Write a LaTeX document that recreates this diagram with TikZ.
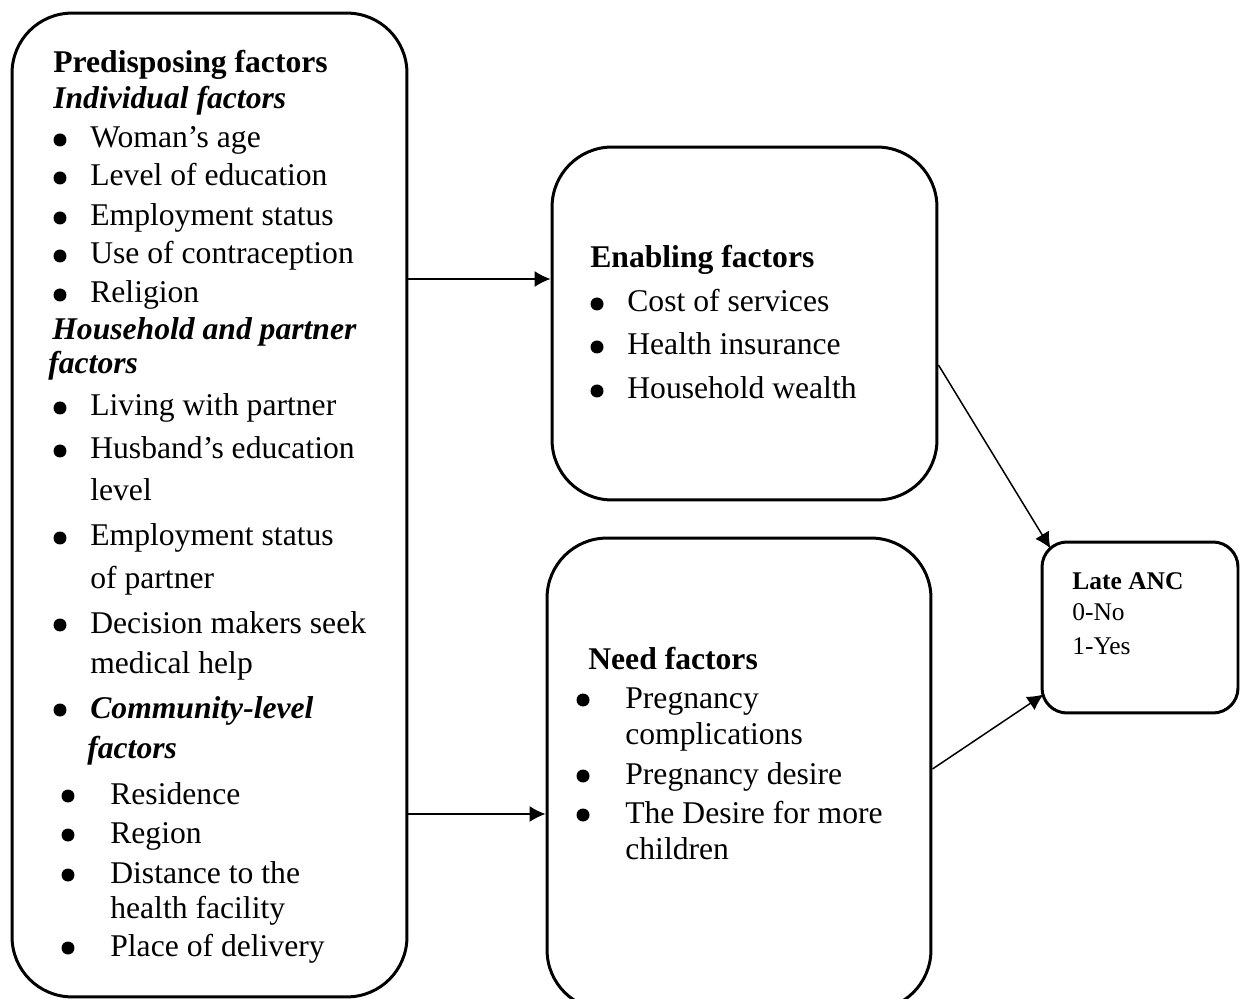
\documentclass[tikz,border=0pt]{standalone}
\usepackage{fontspec}
\setmainfont{Liberation Serif}
\usetikzlibrary{calc,arrows.meta,positioning}

\tikzset{
  box/.style={draw,line width=1.7pt,rounded corners=1.2cm,inner sep=0pt},
  txt/.style={anchor=base west,inner sep=0pt,font=\fontsize{18}{20}\selectfont},
  dot/.style={circle,fill,inner sep=0pt,minimum size=0.26cm},
  small/.style={anchor=base west,inner sep=0pt,font=\fontsize{14.5}{16}\selectfont},
  arr/.style={line width=0.85pt,-{Latex[length=0.32cm,width=0.32cm]}}
}

\begin{document}
\begin{tikzpicture}[x=0.02cm,y=-0.02cm]
     \useasboundingbox (0,0) rectangle (1240,999);

     % the four boxes
     \node[box,minimum width=7.9cm,minimum height=19.68cm] (pred) at (209.5,505) {};
     \node[box,minimum width=7.7cm,minimum height=7.06cm] (enab) at (744.5,323.5) {};
     \node[box,minimum width=7.68cm,minimum height=9.44cm] (need) at (739,774) {};
     \node[box,rounded corners=0.5cm,minimum width=3.92cm,minimum height=3.42cm] (anc) at (1140,627.5) {};

     % predisposing factors
     \node[txt,font=\fontsize{18}{20}\selectfont\bfseries] (predhead) at (53,73) {Predisposing factors};
     \node[txt,font=\fontsize{18}{20}\selectfont\bfseries\itshape] (indiv) at (53,109) {Individual factors};
     \node[txt] (age) at (90,148) {Woman’s age};
     \node[txt] (educ) at (90,186) {Level of education};
     \node[txt] (employ) at (90,226) {Employment status};
     \node[txt] (contra) at (90,264) {Use of contraception};
     \node[txt] (relig) at (90,303) {Religion};
     \node[txt,font=\fontsize{18}{20}\selectfont\bfseries\itshape] (house) at (52,340) {Household and partner};
     \node[txt,font=\fontsize{18}{20}\selectfont\bfseries\itshape] (house2) at (48,374) {factors};
     \node[txt] (living) at (90,416) {Living with partner};
     \node[txt] (husb) at (90,459) {Husband’s education};
     \node[txt] (husb2) at (90,501) {level};
     \node[txt] (pemploy) at (90,546) {Employment status};
     \node[txt] (pemploy2) at (90,588) {of partner};
     \node[txt] (decis) at (90,633) {Decision makers seek};
     \node[txt] (decis2) at (90,673) {medical help};
     \node[txt,font=\fontsize{18}{20}\selectfont\bfseries\itshape] (comm) at (90,718) {Community-level};
     \node[txt,font=\fontsize{18}{20}\selectfont\bfseries\itshape] (comm2) at (87,758) {factors};
     \node[txt] (resid) at (110,804) {Residence};
     \node[txt] (region) at (110,843) {Region};
     \node[txt] (dist) at (110,883) {Distance to the};
     \node[txt] (dist2) at (110,918) {health facility};
     \node[txt] (place) at (110,956) {Place of delivery};

     % enabling factors
     \node[txt,font=\fontsize{18}{20}\selectfont\bfseries] (enabhead) at (590,268) {Enabling factors};
     \node[txt] (cost) at (627,312) {Cost of services};
     \node[txt] (insur) at (627,355) {Health insurance};
     \node[txt] (wealth) at (627,399) {Household wealth};

     % need factors
     \node[txt,font=\fontsize{18}{20}\selectfont\bfseries] (needhead) at (588,669) {Need factors};
     \node[txt] (preg) at (625,708) {Pregnancy};
     \node[txt] (preg2) at (625,744) {complications};
     \node[txt] (desire) at (625,784) {Pregnancy desire};
     \node[txt] (more) at (625,823) {The Desire for more};
     \node[txt] (more2) at (625,859) {children};

     % outcome
     \node[small,font=\fontsize{14.5}{16}\selectfont\bfseries] (anchead) at (1072,589) {Late ANC};
     \node[small] (no) at (1072,621) {0-No};
     \node[small] (yes) at (1072,654) {1-Yes};

     % bullets
     \foreach \bx/\by [count=\i] in {60/148,60/186,60/226,60/264,60/303,60/416,60/459,60/546,60/633,60/718,
                                     68/804,68/843,68/883,68/956,597/312,597/355,597/399,583/708,583/784,583/823}
       \node[dot] (b\i) at (\bx,\by-8) {};

     % arrows
     \draw[arr] (pred.east |- 0,279) -- (enab.west |- 0,279);
     \draw[arr] (pred.east |- 0,814) -- (need.west |- 0,814);
     \draw[arr] (enab.east |- 0,365) -- ($(anc.north west)+(10,8)$);
     \draw[arr] (need.east |- 0,769) -- ($(anc.south west)+(3,-20)$);

\end{tikzpicture}
\end{document}
